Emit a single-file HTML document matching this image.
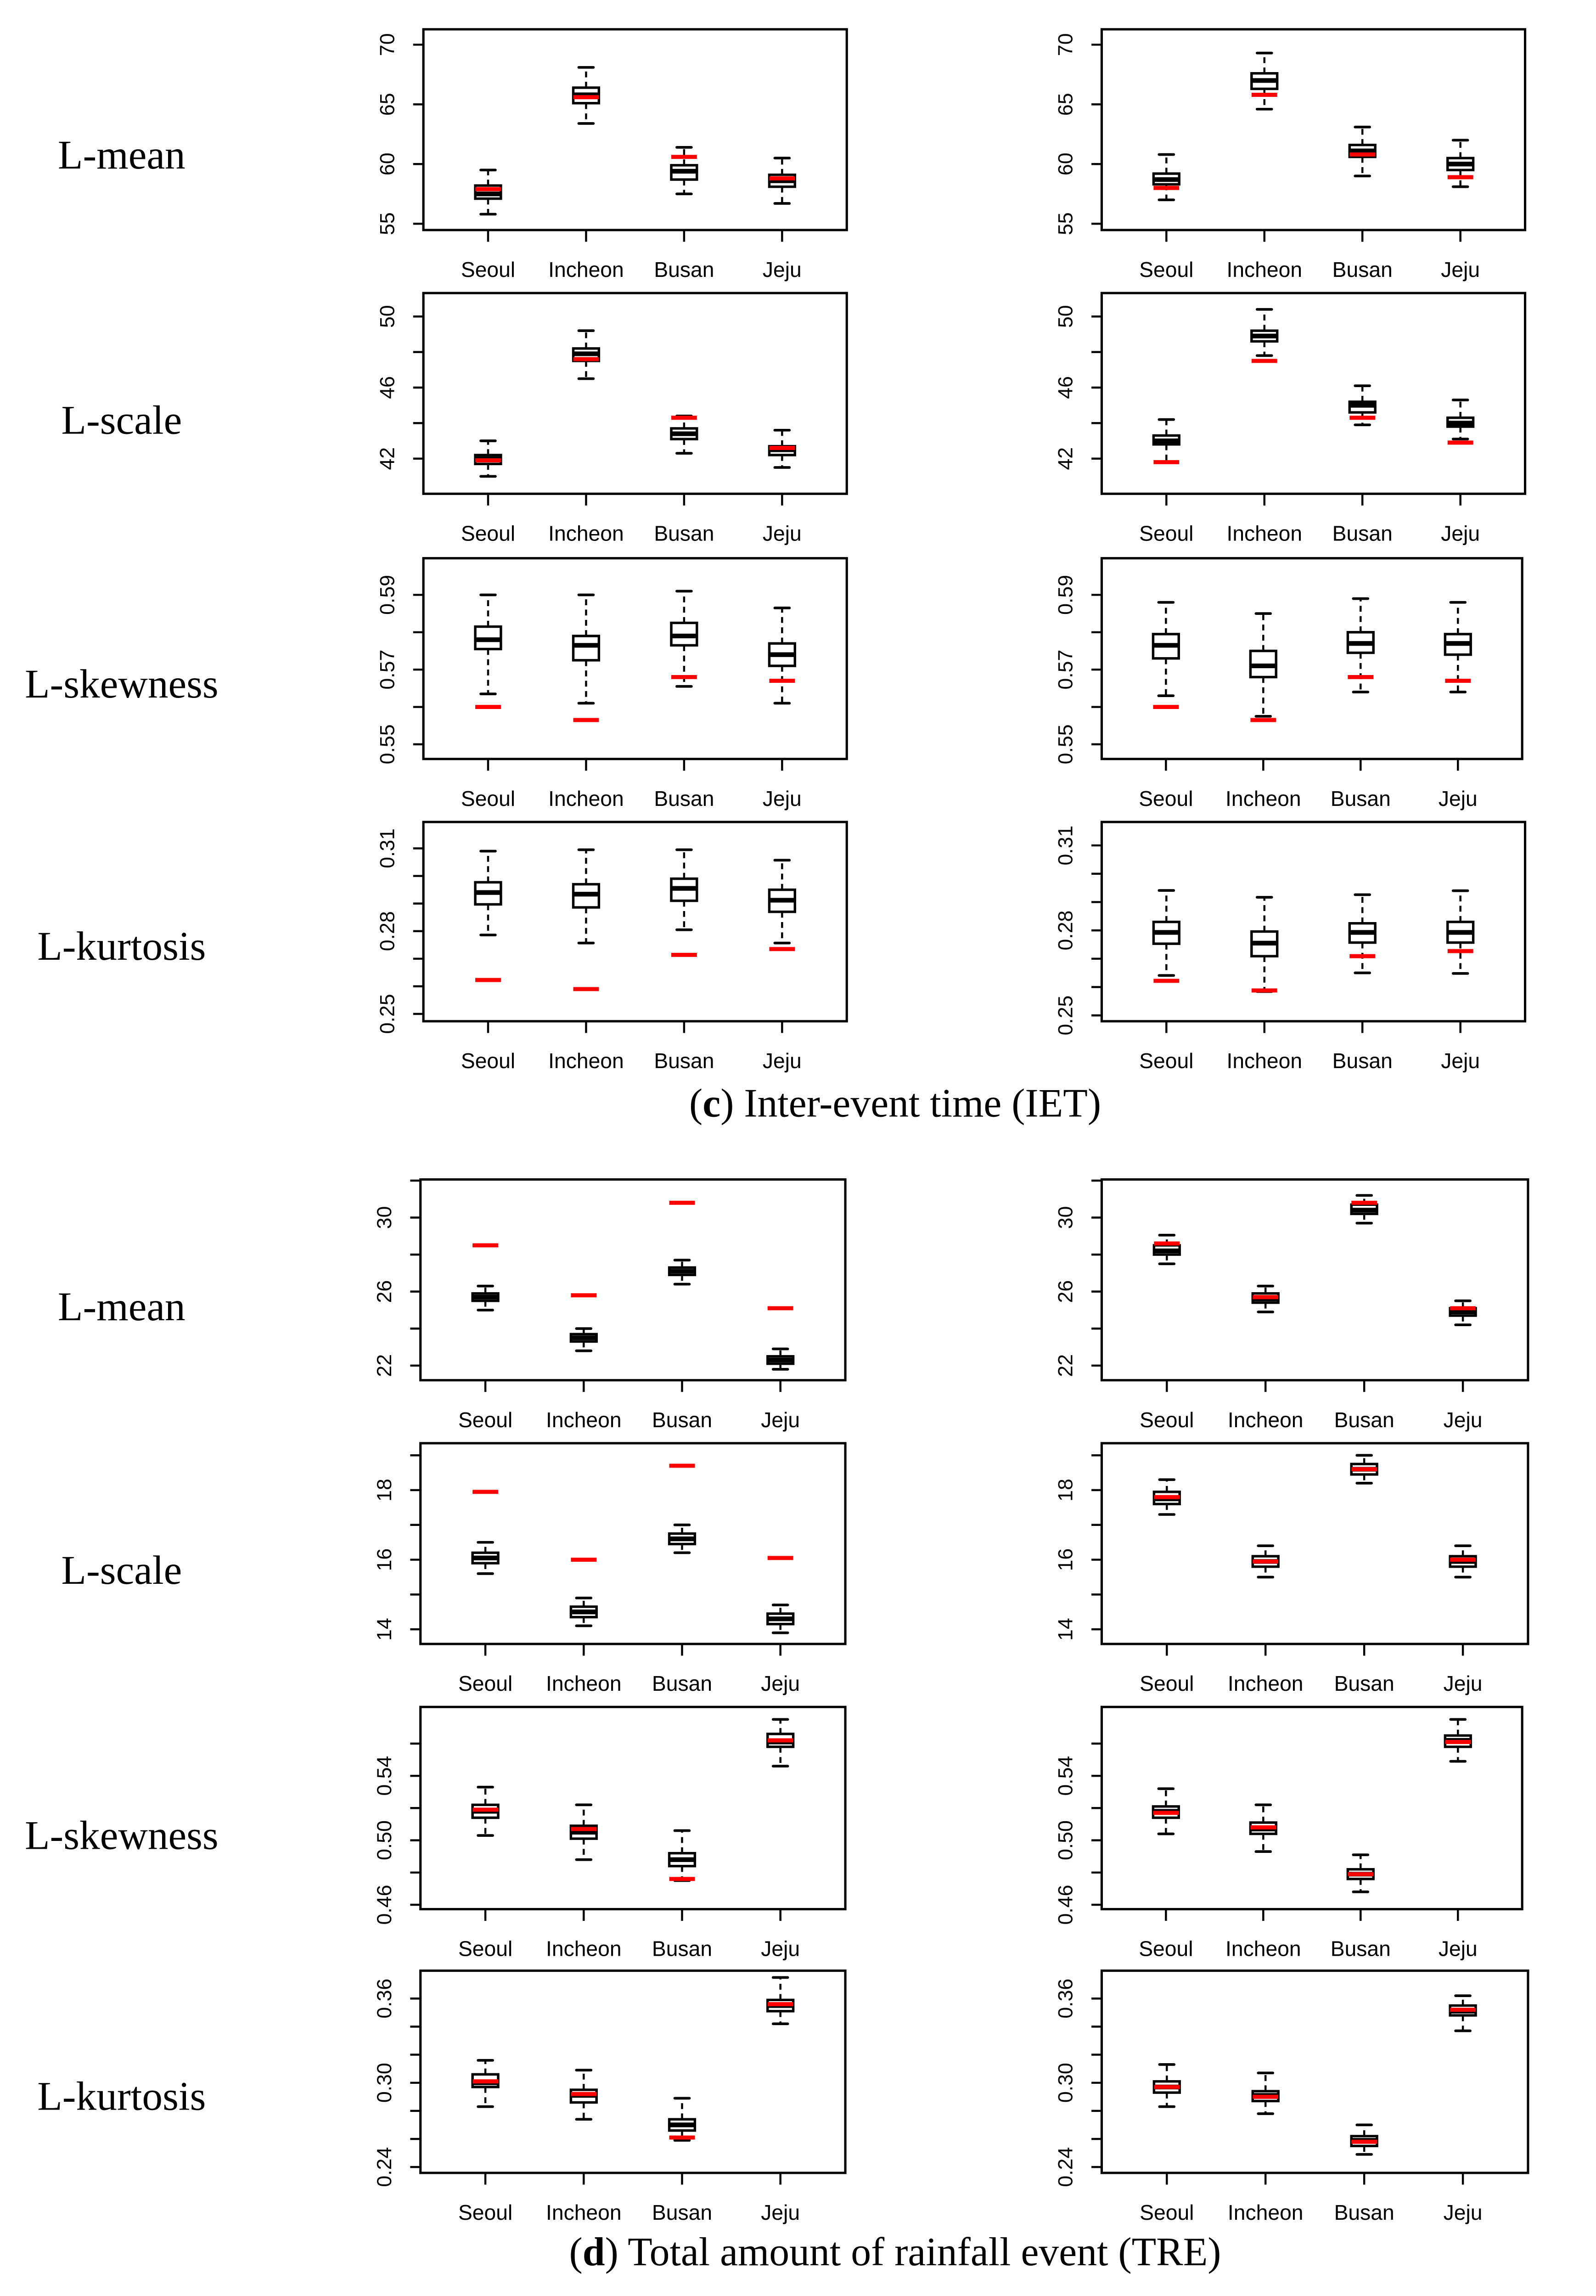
<!DOCTYPE html>
<html><head><meta charset="utf-8">
<style>
html,body{margin:0;padding:0;background:#fff;width:3476px;height:5103px;overflow:hidden;}
svg{display:block;position:absolute;left:0;top:0;}
</style></head>
<body>
<svg id="fig" width="3476" height="5103" style="width:3476px;height:5103px" viewBox="0 0 1089.4 1599.3" preserveAspectRatio="none" xmlns="http://www.w3.org/2000/svg"></svg>
<script>
// ---- data ----
const categories = ["Seoul","Incheon","Busan","Jeju"];
// each panel: [whiskerLow, q1, median, q3, whiskerHigh] per category, plus red reference values
const p1_box = [[55.8,57.1,57.5,58.2,59.5],[63.4,65.1,65.8,66.4,68.1],[57.5,58.7,59.4,59.9,61.4],[56.7,58.1,58.6,59.1,60.5]];
const p1_red = [57.9,65.6,60.6,58.8];
const p2_box = [[57.0,58.3,58.7,59.2,60.8],[64.6,66.3,67.0,67.6,69.3],[59.0,60.6,61.1,61.6,63.1],[58.1,59.5,60.0,60.5,62.0]];
const p2_red = [58.0,65.8,60.8,58.9];
const p3_box = [[41.0,41.7,42.0,42.2,43.0],[46.5,47.5,47.9,48.2,49.2],[42.3,43.1,43.4,43.7,44.4],[41.5,42.2,42.5,42.7,43.6]];
const p3_red = [41.9,47.6,44.3,42.6];
const p4_box = [[41.8,42.8,43.0,43.3,44.2],[47.8,48.6,48.9,49.2,50.4],[43.9,44.6,45.0,45.2,46.1],[43.1,43.8,44.0,44.3,45.3]];
const p4_red = [41.8,47.5,44.3,42.9];
const p5_box = [[0.5635,0.5755,0.578,0.5815,0.590],[0.561,0.5725,0.5765,0.579,0.590],[0.5655,0.5765,0.579,0.5825,0.591],[0.561,0.571,0.574,0.577,0.5865]];
const p5_red = [0.560,0.5565,0.568,0.567];
const p6_box = [[0.563,0.573,0.5765,0.5795,0.588],[0.5575,0.568,0.571,0.575,0.585],[0.564,0.5745,0.577,0.580,0.589],[0.564,0.574,0.577,0.5795,0.588]];
const p6_red = [0.560,0.5565,0.568,0.567];
const p7_box = [[0.2786,0.2897,0.294,0.2977,0.309],[0.2757,0.2886,0.2934,0.297,0.3095],[0.2805,0.291,0.2955,0.299,0.3095],[0.2757,0.287,0.2912,0.295,0.3057]];
const p7_red = [0.2623,0.259,0.2714,0.2735];
const p8_box = [[0.2641,0.2753,0.2793,0.283,0.2941],[0.2584,0.2709,0.2755,0.2796,0.2917],[0.265,0.2757,0.2793,0.2825,0.2926],[0.2648,0.2757,0.2793,0.283,0.294]];
const p8_red = [0.2622,0.2588,0.2709,0.2727];
const p9_box = [[25.0,25.5,25.7,25.9,26.3],[22.8,23.3,23.5,23.7,24.0],[26.4,26.9,27.1,27.3,27.7],[21.8,22.1,22.3,22.5,22.9]];
const p9_red = [28.5,25.8,30.8,25.1];
const p10_box = [[27.5,28.0,28.2,28.5,29.05],[24.9,25.4,25.6,25.9,26.3],[29.7,30.2,30.4,30.7,31.2],[24.2,24.7,24.9,25.1,25.5]];
const p10_red = [28.6,25.7,30.8,25.1];
const p11_box = [[15.6,15.9,16.05,16.2,16.5],[14.1,14.35,14.5,14.65,14.9],[16.2,16.45,16.6,16.75,17.0],[13.9,14.15,14.3,14.45,14.7]];
const p11_red = [17.95,16.0,18.7,16.05];
const p12_box = [[17.3,17.6,17.75,17.95,18.3],[15.5,15.8,15.95,16.1,16.4],[18.2,18.45,18.6,18.75,19.0],[15.5,15.8,15.95,16.1,16.4]];
const p12_red = [17.8,15.95,18.6,16.0];
const p13_box = [[0.503,0.514,0.518,0.522,0.533],[0.488,0.501,0.505,0.509,0.522],[0.475,0.484,0.488,0.492,0.506],[0.546,0.558,0.561,0.566,0.575]];
const p13_red = [0.519,0.507,0.476,0.562];
const p14_box = [[0.504,0.514,0.518,0.521,0.532],[0.493,0.504,0.507,0.511,0.522],[0.468,0.476,0.479,0.482,0.491],[0.549,0.558,0.562,0.565,0.575]];
const p14_red = [0.517,0.508,0.479,0.561];
const p15_box = [[0.283,0.297,0.300,0.306,0.316],[0.274,0.286,0.291,0.295,0.309],[0.259,0.266,0.270,0.274,0.289],[0.342,0.351,0.355,0.359,0.375]];
const p15_red = [0.301,0.292,0.261,0.356];
const p16_box = [[0.283,0.293,0.297,0.301,0.313],[0.278,0.287,0.291,0.294,0.307],[0.249,0.255,0.259,0.262,0.270],[0.337,0.348,0.351,0.355,0.362]];
const p16_red = [0.297,0.290,0.258,0.352];
// tick values and labels
const ticksMean1 = [55,60,65,70];            const labelsMean1 = ["55","60","65","70"];
const ticksScale1 = [42,44,46,48,50];        const labelsScale1 = ["42","","46","","50"];
const ticksSkew1 = [0.55,0.56,0.57,0.58,0.59]; const labelsSkew1 = ["0.55","","0.57","","0.59"];
const ticksKurt1 = [0.25,0.26,0.27,0.28,0.29,0.30,0.31]; const labelsKurt1 = ["0.25","","","0.28","","","0.31"];
const ticksMean2 = [22,24,26,28,30,32];      const labelsMean2 = ["22","","26","","30",""];
const ticksScale2 = [14,15,16,17,18,19];     const labelsScale2 = ["14","","16","","18",""];
const ticksSkew2 = [0.46,0.48,0.50,0.52,0.54,0.56]; const labelsSkew2 = ["0.46","","0.50","","0.54",""];
const ticksKurt2 = [0.24,0.26,0.28,0.30,0.32,0.34,0.36]; const labelsKurt2 = ["0.24","","","0.30","","","0.36"];

// ---- layout (not data) ----
const panels = [
 {n:"iet-lmean-left", box:p1_box, red:p1_red, t:ticksMean1, l:labelsMean1, fx:289,fw:289, fy:20,fh:137, a:[70,30.5,55,152.7]},
 {n:"iet-lmean-right", box:p2_box, red:p2_red, t:ticksMean1, l:labelsMean1, fx:752,fw:289, fy:20,fh:137, a:[70,30.5,55,152.7]},
 {n:"iet-lscale-left", box:p3_box, red:p3_red, t:ticksScale1, l:labelsScale1, fx:289,fw:289, fy:200,fh:137, a:[50,216,42,313]},
 {n:"iet-lscale-right", box:p4_box, red:p4_red, t:ticksScale1, l:labelsScale1, fx:752,fw:289, fy:200,fh:137, a:[50,216,42,313]},
 {n:"iet-lskew-left", box:p5_box, red:p5_red, t:ticksSkew1, l:labelsSkew1, fx:289,fw:289, fy:381,fh:137, a:[0.59,406,0.55,508]},
 {n:"iet-lskew-right", box:p6_box, red:p6_red, t:ticksSkew1, l:labelsSkew1, fx:752,fw:287, fy:381,fh:137, a:[0.59,406,0.55,508]},
 {n:"iet-lkurt-left", box:p7_box, red:p7_red, t:ticksKurt1, l:labelsKurt1, fx:289,fw:289, fy:561,fh:136, a:[0.31,579,0.25,692]},
 {n:"iet-lkurt-right", box:p8_box, red:p8_red, t:ticksKurt1, l:labelsKurt1, fx:752,fw:289, fy:561,fh:136, a:[0.31,577,0.25,693]},
 {n:"tre-lmean-left", box:p9_box, red:p9_red, t:ticksMean2, l:labelsMean2, fx:287,fw:290, fy:805,fh:137, a:[30,831,22,932]},
 {n:"tre-lmean-right", box:p10_box, red:p10_red, t:ticksMean2, l:labelsMean2, fx:752,fw:291, fy:805,fh:137, a:[30,831,22,932]},
 {n:"tre-lscale-left", box:p11_box, red:p11_red, t:ticksScale2, l:labelsScale2, fx:287,fw:290, fy:985,fh:137, a:[18,1017,14,1112]},
 {n:"tre-lscale-right", box:p12_box, red:p12_red, t:ticksScale2, l:labelsScale2, fx:752,fw:291, fy:985,fh:137, a:[18,1017,14,1112]},
 {n:"tre-lskew-left", box:p13_box, red:p13_red, t:ticksSkew2, l:labelsSkew2, fx:287,fw:290, fy:1165,fh:138, a:[0.54,1212,0.46,1300]},
 {n:"tre-lskew-right", box:p14_box, red:p14_red, t:ticksSkew2, l:labelsSkew2, fx:752,fw:287, fy:1165,fh:138, a:[0.54,1212,0.46,1300]},
 {n:"tre-lkurt-left", box:p15_box, red:p15_red, t:ticksKurt2, l:labelsKurt2, fx:287,fw:290, fy:1345,fh:138, a:[0.36,1364,0.24,1479]},
 {n:"tre-lkurt-right", box:p16_box, red:p16_red, t:ticksKurt2, l:labelsKurt2, fx:752,fw:291, fy:1345,fh:138, a:[0.36,1364,0.24,1479]}
];
const rowLabels = [["L-mean",106],["L-scale",287],["L-skewness",467],["L-kurtosis",646],["L-mean",892],["L-scale",1072],["L-skewness",1253],["L-kurtosis",1431]];

const NS="http://www.w3.org/2000/svg";
const svg=document.getElementById('fig');
function mk(tag, attrs, parent){const e=document.createElementNS(NS,tag);for(const k in attrs)e.setAttribute(k,attrs[k]);(parent||svg).appendChild(e);return e;}

rowLabels.forEach(r=>{
  const t=mk('text',{x:83,y:r[1]+9,'text-anchor':'middle','font-family':'Liberation Serif, serif','font-size':28});
  t.textContent=r[0];
  
  
});
[["(","c",") Inter-event time (IET)",762],["(","d",") Total amount of rainfall event (TRE)",1546]].forEach(c=>{
  const t=mk('text',{x:611,y:c[3],'text-anchor':'middle','font-family':'Liberation Serif, serif','font-size':27.5});
  
  
  const a=mk('tspan',{},t);a.textContent=c[0];
  const b=mk('tspan',{'font-weight':'bold'},t);b.textContent=c[1];
  const d=mk('tspan',{},t);d.textContent=c[2];
});

panels.forEach(p=>{
  const g=mk('g',{});
  
  
  const yS=v=>p.a[1]+(v-p.a[0])*(p.a[3]-p.a[1])/(p.a[2]-p.a[0]);
  const unit=p.fw/4.32;
  const xS=i=>p.fx+unit*(0.66+i);
  const fr=mk('rect',{x:p.fx,y:p.fy,width:p.fw,height:p.fh,fill:'none',stroke:'#000','stroke-width':1.6},g);
  
  
  p.t.forEach((v,i)=>{
    const y=yS(v);
    const tk=mk('line',{x1:p.fx-7,x2:p.fx,y1:y,y2:y,stroke:'#000','stroke-width':1.4},g);
    
    
    if(p.l[i]){
      const tx=mk('text',{x:0,y:0,transform:`translate(${p.fx-20},${y}) rotate(-90)`,'text-anchor':'middle','font-family':'Liberation Sans, sans-serif','font-size':14},g);
      tx.textContent=p.l[i];
      
      
    }
  });
  categories.forEach((c,i)=>{
    const x=xS(i);
    const xt=mk('line',{x1:x,x2:x,y1:p.fy+p.fh,y2:p.fy+p.fh+8,stroke:'#000','stroke-width':1.4},g);
    
    
    const xl=mk('text',{x:x,y:p.fy+p.fh+32,'text-anchor':'middle','font-family':'Liberation Sans, sans-serif','font-size':14.5},g);
    xl.textContent=c;
    
    
    const b=p.box[i];
    const bw=17.5, cw=10;
    const wl=mk('line',{x1:x,x2:x,y1:yS(b[3]),y2:yS(b[4]),stroke:'#000','stroke-width':1.4,'stroke-dasharray':'4,3'},g);
    
    
    const wl2=mk('line',{x1:x,x2:x,y1:yS(b[1]),y2:yS(b[0]),stroke:'#000','stroke-width':1.4,'stroke-dasharray':'4,3'},g);
    
    
    [b[0],b[4]].forEach(v=>{
      const cap=mk('line',{x1:x-cw/2,x2:x+cw/2,y1:yS(v),y2:yS(v),stroke:'#000','stroke-width':1.8,'stroke-linecap':'round'},g);
      
      
    });
    const bx=mk('rect',{x:x-bw/2,y:yS(b[3]),width:bw,height:yS(b[1])-yS(b[3]),fill:'#fff',stroke:'#000','stroke-width':1.7},g);
    
    
    const md=mk('line',{x1:x-bw/2,x2:x+bw/2,y1:yS(b[2]),y2:yS(b[2]),stroke:'#000','stroke-width':3.2},g);
    
    
    const rd=mk('line',{x1:x-bw/2,x2:x+bw/2,y1:yS(p.red[i]),y2:yS(p.red[i]),stroke:'#ff0000','stroke-width':2.8},g);
    
    
  });
});
</script>
</body></html>
